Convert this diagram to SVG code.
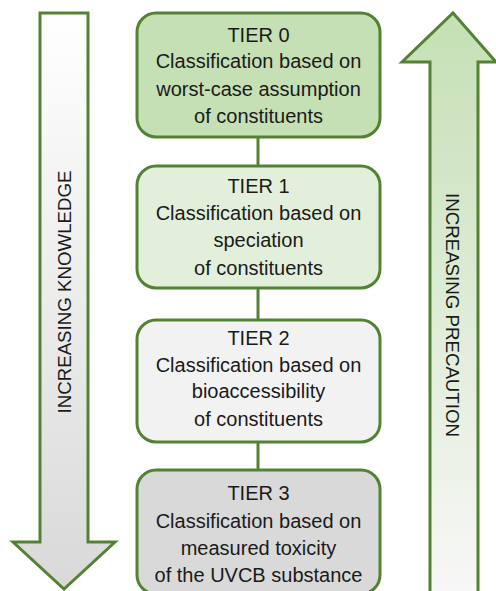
<svg xmlns="http://www.w3.org/2000/svg" width="496" height="591" viewBox="0 0 496 591">
<defs>
<linearGradient id="gL" x1="0" y1="0" x2="0" y2="1"><stop offset="0" stop-color="#ffffff"/><stop offset="1" stop-color="#d9d9d9"/></linearGradient>
<linearGradient id="gR" x1="0" y1="0" x2="0" y2="1"><stop offset="0" stop-color="#c5e0b4"/><stop offset="1" stop-color="#f8f8f8"/></linearGradient>
<style>
.box{stroke:#548235;stroke-width:3}
.arr{stroke:#548235;stroke-width:3;stroke-linejoin:miter}
.t{font-family:"Liberation Sans",Arial,sans-serif;font-size:20px;fill:#1a1a1a;text-anchor:middle}
.v{font-family:"Liberation Sans",Arial,sans-serif;font-size:18.7px;fill:#1a1a1a;text-anchor:middle}
.con{stroke:#548235;stroke-width:3}
</style>
</defs>
<g id="arrow-knowledge">
<path class="arr" fill="url(#gL)" d="M40,13 H88 V542 H115 L64,589 L13,542 H40 Z"/>
<text class="v" transform="translate(71,292) rotate(-90)">INCREASING KNOWLEDGE</text>
</g>
<g id="arrow-precaution">
<path class="arr" fill="url(#gR)" d="M453,13 L496,62 H478 V600 H430 V62 H402 Z"/>
<text class="v" transform="translate(446,315) rotate(90)">INCREASING PRECAUTION</text>
</g>
<g id="connectors">
<line class="con" x1="258" y1="137" x2="258" y2="166"/>
<line class="con" x1="258" y1="288" x2="258" y2="320"/>
<line class="con" x1="258" y1="442" x2="258" y2="470"/>
</g>
<g id="tier0">
<rect class="box" x="137" y="13" width="243" height="124" rx="19" fill="#c5e0b4"/>
<text class="t" x="258.5" y="42">TIER 0</text>
<text class="t" x="258.5" y="68">Classification based on</text>
<text class="t" x="258.5" y="96">worst-case assumption</text>
<text class="t" x="258.5" y="123">of constituents</text>
</g>
<g id="tier1">
<rect class="box" x="137" y="166" width="243" height="122" rx="19" fill="#e2efda"/>
<text class="t" x="258.5" y="193">TIER 1</text>
<text class="t" x="258.5" y="220">Classification based on</text>
<text class="t" x="258.5" y="247">speciation</text>
<text class="t" x="258.5" y="275">of constituents</text>
</g>
<g id="tier2">
<rect class="box" x="137" y="320" width="243" height="122" rx="19" fill="#f2f2f2"/>
<text class="t" x="258.5" y="345">TIER 2</text>
<text class="t" x="258.5" y="372">Classification based on</text>
<text class="t" x="258.5" y="398">bioaccessibility</text>
<text class="t" x="258.5" y="426">of constituents</text>
</g>
<g id="tier3">
<rect class="box" x="137" y="470" width="243" height="124" rx="19" fill="#d9d9d9"/>
<text class="t" x="258.5" y="500">TIER 3</text>
<text class="t" x="258.5" y="528">Classification based on</text>
<text class="t" x="258.5" y="555">measured toxicity</text>
<text class="t" x="258.5" y="582">of the UVCB substance</text>
</g>
</svg>
